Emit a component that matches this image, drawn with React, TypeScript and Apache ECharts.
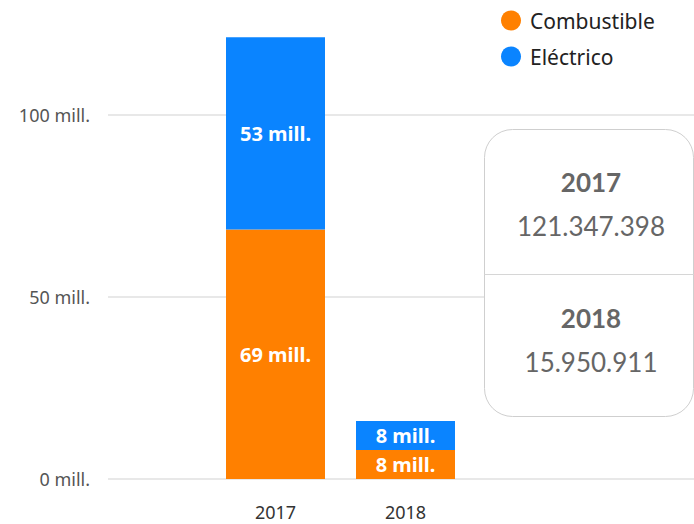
import React, { useEffect, useRef } from "react";
import * as echarts from "echarts";

const categories = ["2017", "2018"];
const combustible = [68550000, 7950000];
const electrico = [52797398, 8000911];
const yTicks = [0, 50000000, 100000000];
const seriesNames = ["Combustible", "Eléctrico"];
const colors = ["#FF8000", "#0A84FF"];

const fmtMill = (v: number) => `${Math.round(v / 1e6)} mill.`;
const fmtDots = (v: number) => String(Math.round(v)).replace(/\B(?=(\d{3})+(?!\d))/g, ".");

export default function App() {
  const ref = useRef<HTMLDivElement>(null);
  useEffect(() => {
    if (!ref.current) return;
    const chart = echarts.init(ref.current, null, { renderer: "svg" });
    const totals = categories.map((_, i) => combustible[i] + electrico[i]);
    const font = "'Noto Sans', sans-serif";
    const boxFont = "Lato, 'Noto Sans', sans-serif";
    const boxGraphics: any[] = [
      {
        type: "rect",
        z: 100,
        shape: { x: 484.5, y: 129.5, width: 209, height: 287, r: 28 },
        style: { fill: "#fff", stroke: "#cfcfcf", lineWidth: 1 },
      },
      {
        type: "line",
        z: 101,
        shape: { x1: 484.5, y1: 274.5, x2: 693.5, y2: 274.5 },
        style: { stroke: "#d6d6d6", lineWidth: 1 },
      },
    ];
    categories.forEach((c, i) => {
      const base = 182 + i * 136;
      boxGraphics.push({
        type: "text",
        z: 102,
        x: 591,
        y: base,
        style: {
          text: c,
          fill: "#666",
          font: `bold 26px ${boxFont}`,
          textAlign: "center",
          textVerticalAlign: "middle",
        },
      });
      boxGraphics.push({
        type: "text",
        z: 102,
        x: 591,
        y: base + 44,
        style: {
          text: fmtDots(totals[i]),
          fill: "#666",
          font: `26px ${boxFont}`,
          textAlign: "center",
          textVerticalAlign: "middle",
        },
      });
    });

    const labelCfg = {
      show: true,
      position: "inside",
      color: "#fff",
      fontFamily: font,
      fontWeight: "bold",
      fontSize: 20,
      formatter: (p: any) => fmtMill(p.value),
    };

    chart.setOption({
      animation: false,
      backgroundColor: "#fff",
      textStyle: { fontFamily: font },
      legend: {
        orient: "vertical",
        left: 496,
        top: 5,
        icon: "circle",
        itemWidth: 20,
        itemHeight: 20,
        itemGap: 15,
        data: seriesNames,
        textStyle: { fontSize: 21, color: "#222", fontFamily: font, padding: [0, 0, 0, 4] },
      },
      grid: [
        { left: 108, right: 0, top: 115, bottom: 45 },
        { left: 210.5, right: 223.5, top: 24, bottom: 45 },
      ],
      xAxis: [
        { type: "value", gridIndex: 0, show: false, min: 0, max: 1 },
        {
          type: "category",
          gridIndex: 1,
          data: categories,
          axisLine: { show: false },
          axisTick: { show: false },
          axisLabel: { color: "#333", fontSize: 18, margin: 24, fontFamily: font },
        },
      ],
      yAxis: [
        {
          type: "value",
          gridIndex: 0,
          min: yTicks[0],
          max: yTicks[yTicks.length - 1],
          interval: yTicks[1] - yTicks[0],
          axisLine: { show: false },
          axisTick: { show: false },
          axisLabel: {
            color: "#555",
            fontSize: 18,
            margin: 18,
            fontFamily: font,
            formatter: (v: number) => fmtMill(v),
          },
          splitLine: { lineStyle: { color: "#e8e8e8", width: 2 } },
        },
        { type: "value", gridIndex: 1, min: 0, max: 125000000, show: false },
      ],
      series: [
        {
          name: seriesNames[0],
          type: "bar",
          xAxisIndex: 1,
          yAxisIndex: 1,
          stack: "t",
          barWidth: 99,
          data: combustible,
          itemStyle: { color: colors[0] },
          label: labelCfg,
        },
        {
          name: seriesNames[1],
          type: "bar",
          xAxisIndex: 1,
          yAxisIndex: 1,
          stack: "t",
          barWidth: 99,
          data: electrico,
          itemStyle: { color: colors[1] },
          label: labelCfg,
        },
      ],
      graphic: boxGraphics,
    });
    return () => chart.dispose();
  }, []);
  return <div ref={ref} style={{ width: 694, height: 524, position: "absolute", left: 0, top: 0 }} />;
}
